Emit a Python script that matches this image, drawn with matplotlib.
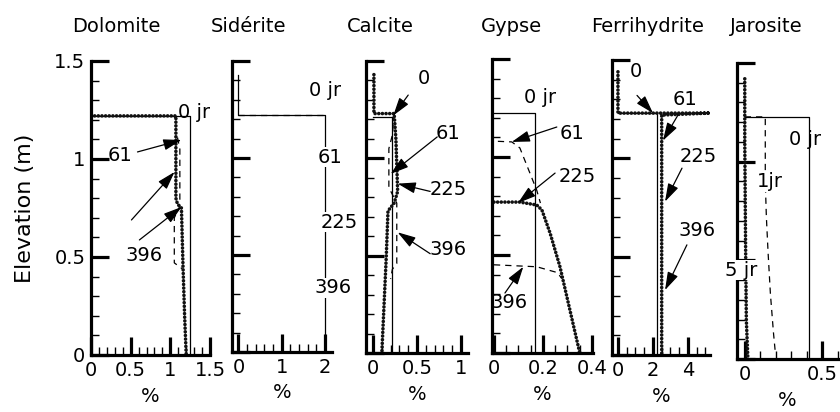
import matplotlib
matplotlib.use("Agg")
import matplotlib.pyplot as plt
from matplotlib.ticker import MultipleLocator, FixedLocator, FixedFormatter, NullFormatter

plt.rcParams['font.family'] = ['DejaVu Sans']
plt.rcParams['font.size'] = 14

# ---------------- text ----------------
titles = ["Dolomite", "Sidérite", "Calcite", "Gypse", "Ferrihydrite", "Jarosite"]
x_label = "%"
y_label = "Elevation (m)"
y_ticks = [0, 0.5, 1, 1.5]
y_ticklabels = ["0", "0.5", "1", "1.5"]
x_ticks = [[0, 0.5, 1, 1.5], [0, 1, 2], [0, 0.5, 1], [0, 0.2, 0.4], [0, 2, 4], [0, 0.5]]
x_ticklabels = [["0", "0.5", "1", "1.5"], ["0", "1", "2"], ["0", "0.5", "1"],
                ["0", "0.2", "0.4"], ["0", "2", "4"], ["0", "0.5"]]
x_minor_step = [0.1, 0.2, 0.1, 0.05, 0.5, 0.1]

# ---------------- data (%, elevation m) ----------------
# Dolomite
dol_0_x = [0, 1.25, 1.25]
dol_0_y = [1.22, 1.22, 0]
dol_61_x = [1.09, 1.12, 1.12, 1.05, 1.05, 1.15]
dol_61_y = [1.11, 1.05, 0.76, 0.70, 0.47, 0.44]
dol_396_x = [0, 1.07, 1.07, 1.09, 1.14, 1.16, 1.18, 1.20]
dol_396_y = [1.22, 1.22, 0.80, 0.77, 0.75, 0.45, 0.20, 0]
# Siderite
sid_0_x = [0, 0, 2, 2]
sid_0_y = [1.43, 1.22, 1.22, 0]
sid_61_x = [0, 2]
sid_61_y = [1.22, 1.22]
# Calcite
cal_0_x = [0, 0.21, 0.21]
cal_0_y = [1.21, 1.21, 0]
cal_61_x = [0.24, 0.22, 0.18, 0.18, 0.27, 0.27, 0.22, 0.20]
cal_61_y = [1.23, 1.12, 1.05, 0.85, 0.77, 0.46, 0.43, 0.38]
cal_396_x = [0.01, 0.01, 0.24, 0.26, 0.28, 0.24, 0.17, 0.15, 0.10]
cal_396_y = [1.43, 1.23, 1.23, 1.10, 0.83, 0.77, 0.73, 0.49, 0]
# Gypse
gyp_0_x = [0, 0.168, 0.168]
gyp_0_y = [1.224, 1.224, 0]
gyp_61_x = [0.016, 0.073, 0.106, 0.147, 0.175, 0.19]
gyp_61_y = [1.08, 1.077, 1.046, 0.918, 0.83, 0.765]
gyp_225_x = [0, 0.106, 0.175, 0.196, 0.23, 0.27, 0.35]
gyp_225_y = [0.77, 0.77, 0.755, 0.73, 0.61, 0.44, 0.005]
gyp_396_x = [0, 0.175, 0.26, 0.277]
gyp_396_y = [0.45, 0.44, 0.41, 0.38]
# Ferrihydrite
fer_0_x = [0, 2.23, 2.23]
fer_0_y = [1.23, 1.23, 0]
fer_61_x = [0, 0, 5.25, 2.5, 2.5]
fer_61_y = [1.44, 1.23, 1.23, 1.22, 0]
# Jarosite
jar_0_x = [0, 0.416, 0.416]
jar_0_y = [1.227, 1.227, 0]
jar_1_x = [0, 0.132, 0.132, 0.139, 0.15, 0.165, 0.185, 0.197]
jar_1_y = [1.227, 1.227, 0.90, 0.72, 0.54, 0.33, 0.13, 0.03]
jar_5_x = [0, 0, 0.005, 0.01, 0.02]
jar_5_y = [1.42, 1.10, 0.60, 0.20, 0]

# series per panel: (x, y, kind)
series = [
    [(dol_0_x, dol_0_y, "solid"), (dol_61_x, dol_61_y, "dashed"), (dol_396_x, dol_396_y, "dotted")],
    [(sid_0_x, sid_0_y, "solid"), (sid_61_x, sid_61_y, "dashed")],
    [(cal_0_x, cal_0_y, "solid"), (cal_61_x, cal_61_y, "dashed"), (cal_396_x, cal_396_y, "dotted")],
    [(gyp_0_x, gyp_0_y, "solid"), (gyp_61_x, gyp_61_y, "dashed"), (gyp_225_x, gyp_225_y, "dotted"),
     (gyp_396_x, gyp_396_y, "dashed")],
    [(fer_0_x, fer_0_y, "solid"), (fer_61_x, fer_61_y, "dotted")],
    [(jar_0_x, jar_0_y, "solid"), (jar_1_x, jar_1_y, "dashed"), (jar_5_x, jar_5_y, "dotted")],
]

# annotation labels: (text, x, y, white background)
labels = [
    [("0 jr", 1.305, 1.235, False), ("61", 0.36, 1.02, False), ("396", 0.675, 0.51, False)],
    [("0 jr", 2.0, 1.35, False), ("61", 2.11, 1.005, True), ("225", 2.32, 0.67, True), ("396", 2.18, 0.33, True)],
    [("0", 0.58, 1.41, False), ("61", 0.85, 1.13, False), ("225", 0.86, 0.84, False), ("396", 0.85, 0.53, False)],
    [("0 jr", 0.19, 1.306, False), ("61", 0.32, 1.12, False), ("225", 0.34, 0.90, False), ("396", 0.06, 0.26, False)],
    [("0", 1.03, 1.44, False), ("61", 3.83, 1.30, False), ("225", 4.57, 1.01, False), ("396", 4.5, 0.635, False)],
    [("0 jr", 0.39, 1.11, False), ("1jr", 0.16, 0.90, True), ("5 jr", -0.02, 0.45, True)],
]
# arrows: (tail x, tail y, head x, head y)
arrows = [
    [(0.586, 1.036, 1.14, 1.097), (0.51, 0.689, 1.053, 0.934), (0.61, 0.587, 1.14, 0.755)],
    [],
    [(0.40, 1.325, 0.23, 1.22), (0.73, 1.11, 0.20, 0.92), (0.65, 0.83, 0.28, 0.87), (0.65, 0.51, 0.28, 0.62)],
    [(0.257, 1.153, 0.073, 1.077), (0.25, 0.918, 0.098, 0.765), (0.045, 0.306, 0.12, 0.44)],
    [(1.09, 1.32, 2.0, 1.23), (3.43, 1.22, 2.57, 1.09), (3.66, 0.95, 2.69, 0.78), (3.94, 0.56, 2.69, 0.33)],
    [],
]

# ---------------- layout ----------------
W, H = 840, 412
# (left, right, top, bottom) in pixels, and x limits
boxes = [(91, 210, 61, 355), (232, 332, 61, 352), (366, 468, 61, 353),
         (492, 593, 59, 353), (612, 710, 60, 355), (737, 838, 63, 359)]
xlims = [(0, 1.5), (-0.15, 2.16), (-0.08, 1.08), (-0.008, 0.405), (-0.34, 5.26), (-0.05, 0.6)]
title_x = [116, 249, 380, 511, 648, 766]
title_y = 27

fig = plt.figure(figsize=(W / 100, H / 100), dpi=100)

styles = {
    "solid": dict(color="black", lw=0.9, ls="-"),
    "dashed": dict(color="black", lw=0.9, ls=(0, (5, 4))),
    "dotted": dict(color="#111111", lw=2.6, ls=(0, (0.01, 1.0)), dash_capstyle="round"),
}

for i in range(6):
    l, r, t, b = boxes[i]
    ax = fig.add_axes([l / W, 1 - b / H, (r - l) / W, (b - t) / H])
    ax.set_xlim(*xlims[i])
    ax.set_ylim(0, 1.5)
    for s in ("top", "right"):
        ax.spines[s].set_visible(False)
    for s in ("left", "bottom"):
        ax.spines[s].set_linewidth(2.3)
    ax.xaxis.set_major_locator(FixedLocator(x_ticks[i]))
    ax.xaxis.set_major_formatter(FixedFormatter(x_ticklabels[i]))
    ax.xaxis.set_minor_locator(MultipleLocator(x_minor_step[i]))
    ax.yaxis.set_major_locator(FixedLocator(y_ticks))
    ax.yaxis.set_minor_locator(MultipleLocator(0.1))
    if i == 0:
        ax.yaxis.set_major_formatter(FixedFormatter(y_ticklabels))
        ax.set_ylabel(y_label, fontsize=16, labelpad=14)
    else:
        ax.yaxis.set_major_formatter(NullFormatter())
    ax.tick_params(which="major", direction="in", length=13, width=2.3, labelsize=14, pad=4)
    ax.tick_params(which="minor", direction="in", length=5.5, width=1.0)
    ax.set_xlabel(x_label, fontsize=14, labelpad=5)
    ax.patch.set_alpha(0)

    for xs, ys, kind in series[i]:
        ax.plot(xs, ys, **styles[kind])

    for (txt, tx, ty, bg) in labels[i]:
        kw = {}
        if bg:
            kw["bbox"] = dict(facecolor="white", edgecolor="none", pad=0.5)
        ax.text(tx, ty, txt, ha="center", va="center", fontsize=14, zorder=4, **kw)

    for (x0, y0, x1, y1) in arrows[i]:
        ax.annotate("", xy=(x1, y1), xytext=(x0, y0),
                    arrowprops=dict(arrowstyle="-|>,head_length=0.55,head_width=0.17",
                                    color="black", lw=0.9, shrinkA=0, shrinkB=0,
                                    mutation_scale=20))

    fig.text(title_x[i] / W, 1 - title_y / H, titles[i], ha="center", va="center", fontsize=14)

fig.savefig("out.png", dpi=100)
